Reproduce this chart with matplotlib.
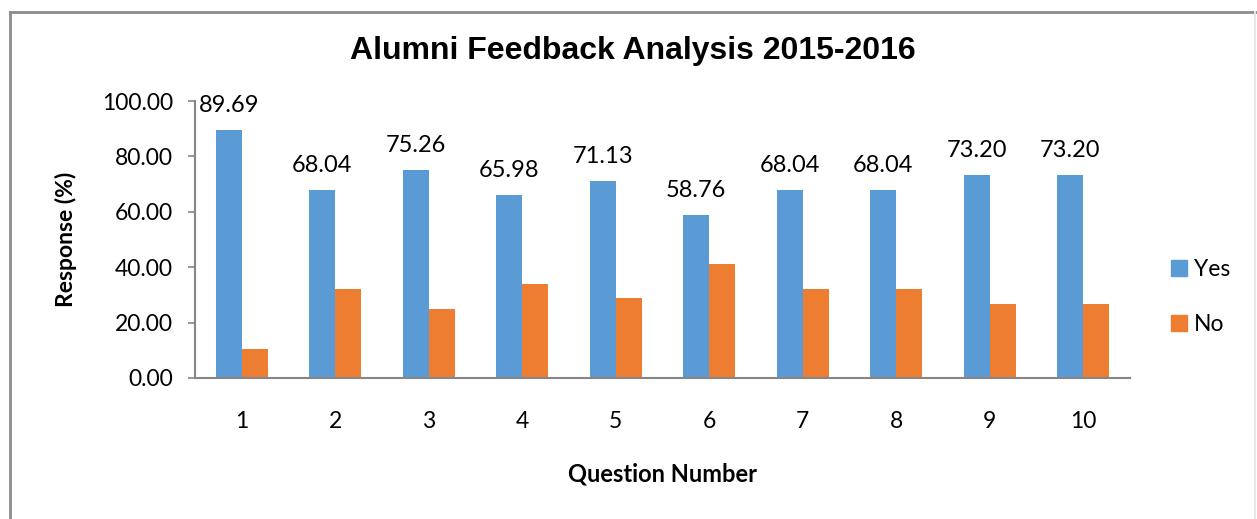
import numpy as np
import matplotlib.pyplot as plt
from matplotlib.lines import Line2D

questions = ["1", "2", "3", "4", "5", "6", "7", "8", "9", "10"]
yes_pct = [89.69, 68.04, 75.26, 65.98, 71.13, 58.76, 68.04, 68.04, 73.20, 73.20]
no_pct = [10.31, 31.96, 24.74, 34.02, 28.87, 41.24, 31.96, 31.96, 26.80, 26.80]

BLUE = "#5b9bd5"
ORANGE = "#ed7d31"
AXIS_GREY = "#868686"
TXT_FONT = ["Lato", "DejaVu Sans"]

W, H = 1257, 519
fig = plt.figure(figsize=(W / 100, H / 100), dpi=100)

# plot area in pixel coords -> figure fraction
left, right, top, bottom = 195, 1130, 101, 378
ax = fig.add_axes([left / W, 1 - bottom / H, (right - left) / W, (bottom - top) / H])

x = np.arange(len(questions))
bw = 0.28
ax.bar(x - bw / 2, yes_pct, bw, color=BLUE, label="Yes")
ax.bar(x + bw / 2, no_pct, bw, color=ORANGE, label="No")

for xi, v in zip(x, yes_pct):
    ax.annotate(f"{v:.2f}", (xi - bw / 2, v), xytext=(0, 10), textcoords="offset points",
                ha="center", va="bottom", fontsize=17, family=TXT_FONT, color="#000000")

ax.set_xlim(-0.5, len(questions) - 0.5)
ax.set_ylim(0, 100)
ax.set_yticks(np.arange(0, 101, 20))
ax.set_yticklabels([f"{t:.2f}" for t in np.arange(0, 101, 20)])
ax.set_xticks(x)
ax.set_xticklabels(questions)

for lab in ax.get_xticklabels() + ax.get_yticklabels():
    lab.set_family(TXT_FONT)
    lab.set_fontsize(16.5)
ax.tick_params(axis="x", length=0, pad=24)
ax.tick_params(axis="y", length=5, color=AXIS_GREY, width=1.2, pad=11)

for side in ["top", "right"]:
    ax.spines[side].set_visible(False)
for side in ["left", "bottom"]:
    ax.spines[side].set_color(AXIS_GREY)
    ax.spines[side].set_linewidth(1.5)

ax.set_xlabel("Question Number", fontsize=17, fontweight="bold", family=TXT_FONT, labelpad=22)
ax.set_ylabel("Response (%)", fontsize=16.5, fontweight="bold", family=TXT_FONT, labelpad=18)

fig.text(633 / W, 1 - 51 / H, "Alumni Feedback Analysis 2015-2016", ha="center", va="center",
         fontsize=23, fontweight="bold", family=["Liberation Sans", "DejaVu Sans"])

handles = [Line2D([], [], marker="s", linestyle="none", markersize=11, color=BLUE),
           Line2D([], [], marker="s", linestyle="none", markersize=11, color=ORANGE)]
leg = fig.legend(handles, ["Yes", "No"], loc="center left", bbox_to_anchor=(1168 / W, 1 - 297 / H),
                 frameon=False, prop={"family": TXT_FONT, "size": 16.5}, handletextpad=0.15,
                 labelspacing=1.45, handlelength=1.0, borderaxespad=0, borderpad=0)

# outer chart border
fig.add_artist(Line2D([10 / W, 10 / W], [0, 1 - 12 / H], color="#8c8c8c", lw=2))
fig.add_artist(Line2D([10 / W, 1], [1 - 12 / H, 1 - 12 / H], color="#8c8c8c", lw=2))
fig.add_artist(Line2D([1255 / W, 1255 / W], [0, 1 - 12 / H], color="#e6e6e6", lw=1.5))

fig.savefig("out.png", dpi=100)
